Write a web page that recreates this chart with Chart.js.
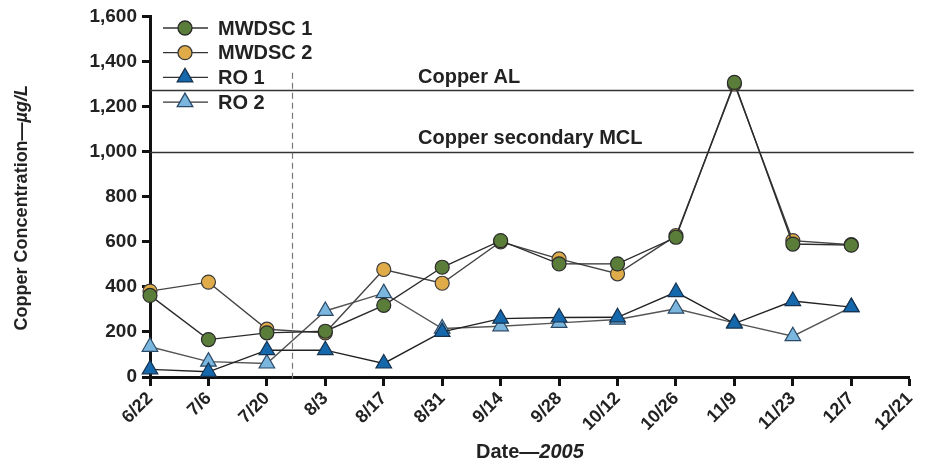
<!DOCTYPE html>
<html>
<head>
<meta charset="utf-8">
<script src="https://cdn.jsdelivr.net/npm/chart.js@4.4.1/dist/chart.umd.min.js"></script>
<style>
  html, body { margin: 0; padding: 0; background: #fff; }
  #wrap { width: 927px; height: 466px; }
</style>
</head>
<body>
<div id="wrap"><canvas id="copperChart"></canvas></div>
<script>
// sampling dates (every two weeks, 2005)
const dates = ['6/22','7/6','7/20','8/3','8/17','8/31','9/14','9/28','10/12','10/26','11/9','11/23','12/7','12/21'];

// copper, ug/L
const mwdsc1 = [362, 166, 196, 203, 318, 487, 605, 502, 502, 620, 1307, 590, 585];
const mwdsc2 = [381, 421, 212, 196, 477, 416, 600, 524, 458, 627, 1300, 605, 587];
const ro1    = [34, 23, 119, 119, 60, 200, 259, 264, 265, 377, 237, 337, 310];
const ro2    = [134, 68, 60, 293, 372, 215, 225, 240, 255, 303, 240, 181, 310];

const yTicks = [0, 200, 400, 600, 800, 1000, 1200, 1400, 1600];
const copperAL = 1275;
const copperMCL = 1000;
const switchIndex = 2.43; // dashed line, ~7/26

const FONT = '"Liberation Sans", Arial, Helvetica, sans-serif';

// AL / MCL lines and the dashed change-over line
const refLines = {
    id: 'refLines',
    beforeDatasetsDraw(chart) {
        const { ctx, chartArea, scales: { x, y } } = chart;
        ctx.save();
        ctx.strokeStyle = '#333';
        ctx.lineWidth = 1.5;
        [copperAL, copperMCL].forEach(v => {
            const py = Math.round(y.getPixelForValue(v)) + 0.5;
            ctx.beginPath();
            ctx.moveTo(chartArea.left, py);
            ctx.lineTo(chartArea.right + 4, py);
            ctx.stroke();
        });
        ctx.fillStyle = '#222';
        ctx.font = 'bold 20px ' + FONT;
        ctx.textBaseline = 'alphabetic';
        ctx.fillText('Copper AL', chartArea.left + 268, y.getPixelForValue(copperAL) - 7);
        ctx.fillText('Copper secondary MCL', chartArea.left + 268, y.getPixelForValue(copperMCL) - 8);

        const px = Math.round(x.getPixelForValue(switchIndex)) + 0.5;
        ctx.strokeStyle = '#777';
        ctx.lineWidth = 1.2;
        ctx.setLineDash([6, 4]);
        ctx.beginPath();
        ctx.moveTo(px, y.getPixelForValue(1350));
        ctx.lineTo(px, chartArea.bottom + 4);
        ctx.stroke();
        ctx.restore();
    }
};

// legend with a line through each marker, inside the plot
const lineLegend = {
    id: 'lineLegend',
    afterDraw(chart) {
        const { ctx, chartArea } = chart;
        ctx.save();
        chart.data.datasets.forEach((ds, i) => {
            const cy = 28 + i * 24.7;
            const x0 = chartArea.left + 13;
            ctx.strokeStyle = '#333';
            ctx.lineWidth = 1.3;
            ctx.beginPath();
            ctx.moveTo(x0, cy);
            ctx.lineTo(x0 + 45, cy);
            ctx.stroke();
            ctx.fillStyle = ds.pointBackgroundColor;
            ctx.strokeStyle = ds.pointBorderColor;
            Chart.helpers.drawPoint(ctx, {
                pointStyle: ds.pointStyle,
                radius: ds.pointRadius,
                borderWidth: ds.pointBorderWidth,
                rotation: 0
            }, x0 + 22, cy);
            ctx.fillStyle = '#222';
            ctx.font = 'bold 20px ' + FONT;
            ctx.textBaseline = 'middle';
            ctx.fillText(ds.label, x0 + 55, cy + 1);
        });
        ctx.restore();
    }
};

// axis titles with italic units
function mixedText(ctx, parts, cx, cy) {
    let total = 0;
    parts.forEach(p => { ctx.font = p.font; total += ctx.measureText(p.text).width; });
    let x = cx - total / 2;
    parts.forEach(p => {
        ctx.font = p.font;
        ctx.fillText(p.text, x, cy);
        x += ctx.measureText(p.text).width;
    });
}
const axisTitles = {
    id: 'axisTitles',
    afterDraw(chart) {
        const { ctx, chartArea } = chart;
        ctx.save();
        ctx.fillStyle = '#222';
        ctx.textBaseline = 'middle';
        mixedText(ctx, [
            { text: 'Date\u2014', font: 'bold 20px ' + FONT },
            { text: '2005', font: 'italic bold 20px ' + FONT }
        ], (chartArea.left + chartArea.right) / 2, 452);
        ctx.translate(22, (chartArea.top + chartArea.bottom) / 2 + 11);
        ctx.rotate(-Math.PI / 2);
        mixedText(ctx, [
            { text: 'Copper Concentration\u2014', font: 'bold 18px ' + FONT },
            { text: '\u00b5g/L', font: 'italic bold 18px ' + FONT }
        ], 0, 0);
        ctx.restore();
    }
};

function series(label, data, style, fill, border, line) {
    return {
        label: label,
        data: data,
        borderColor: line,
        borderWidth: 1.4,
        pointStyle: style,
        pointRadius: style === 'circle' ? 7 : 9,
        pointHoverRadius: style === 'circle' ? 7 : 9,
        pointBackgroundColor: fill,
        pointBorderColor: border,
        pointBorderWidth: 1.2,
        tension: 0,
        fill: false
    };
}

new Chart(document.getElementById('copperChart'), {
    type: 'line',
    data: {
        labels: dates,
        datasets: [
            series('MWDSC 1', mwdsc1, 'circle', '#5b7d3a', '#2a2a2a', '#2b2b2b'),
            series('MWDSC 2', mwdsc2, 'circle', '#e0ac4a', '#3a3a3a', '#444'),
            series('RO 1', ro1, 'triangle', '#1668ac', '#16324f', '#222'),
            series('RO 2', ro2, 'triangle', '#7ab6de', '#2c4a66', '#555')
        ]
    },
    options: {
        responsive: true,
        maintainAspectRatio: false,
        animation: false,
        layout: { padding: { top: 15, right: 7, bottom: 0, left: 0 } },
        plugins: {
            legend: { display: false },
            tooltip: { enabled: false }
        },
        scales: {
            x: {
                type: 'category',
                offset: false,
                grid: { drawOnChartArea: false, tickLength: 9, tickWidth: 3, tickColor: '#111' },
                border: { display: true, width: 3, color: '#111' },
                ticks: {
                    autoSkip: false,
                    minRotation: 45,
                    maxRotation: 45,
                    padding: 2,
                    color: '#222',
                    font: { family: FONT, size: 18, weight: 'bold' }
                },
                afterFit: s => { s.height = 89; }
            },
            y: {
                min: 0,
                max: 1600,
                afterBuildTicks: s => { s.ticks = yTicks.map(v => ({ value: v })); },
                grid: { drawOnChartArea: false, tickLength: 8, tickWidth: 3, tickColor: '#111' },
                border: { display: true, width: 3, color: '#111' },
                ticks: {
                    padding: 5,
                    color: '#222',
                    font: { family: FONT, size: 19, weight: 'bold' },
                    callback: v => v.toLocaleString('en-US')
                },
                afterFit: s => { s.width = 150; }
            }
        }
    },
    plugins: [refLines, lineLegend, axisTitles]
});
</script>
</body>
</html>
